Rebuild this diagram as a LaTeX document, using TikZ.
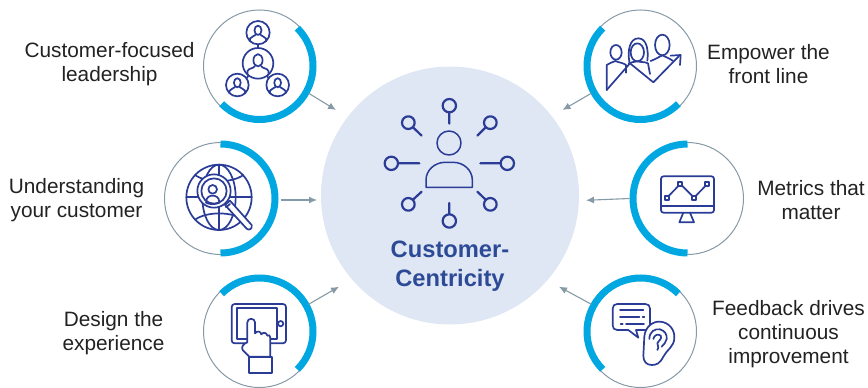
\documentclass[tikz,border=0pt]{standalone}
\usepackage{fontspec}
\setmainfont{Liberation Sans}
\definecolor{navy}{HTML}{2A3C96}
\definecolor{skyb}{HTML}{00A7E1}
\definecolor{ringg}{HTML}{8699A6}
\definecolor{hubfill}{HTML}{DFE7F4}
\definecolor{hubtext}{HTML}{2D4A96}
\definecolor{labelc}{HTML}{222222}
\tikzset{
  x=1pt,y=1pt,
  ring/.style={circle,draw=ringg,line width=1pt,minimum size=112pt,inner sep=0pt,outer sep=0pt},
  bluearc/.style={draw=skyb,line width=7pt},
  arr/.style={draw=ringg,line width=1.1pt,-{Latex[length=8pt,width=7pt]}},
  icon/.style={draw=navy,line width=1.7pt,line join=round,line cap=round},
  lab/.style={align=center,text=labelc,font=\fontsize{20.8}{24}\selectfont,inner sep=0pt},
  zoomed/.style={x=0.33333pt,y=-0.33333pt},
}
\usetikzlibrary{arrows.meta}
\newcommand{\personring}[3]{%
  \draw[icon] (#1,#2) circle[radius=#3];
  \draw[icon] (#1,#2-0.2*#3) ellipse[x radius=0.3*#3,y radius=0.4*#3];
  \draw[icon] (#1-0.68*#3,#2+0.72*#3) -- (#1-0.68*#3,#2+0.5*#3) .. controls (#1-0.6*#3,#2+0.3*#3) and (#1-0.3*#3,#2+0.35*#3) .. (#1-0.2*#3,#2+0.18*#3);
  \draw[icon] (#1+0.68*#3,#2+0.72*#3) -- (#1+0.68*#3,#2+0.5*#3) .. controls (#1+0.6*#3,#2+0.3*#3) and (#1+0.3*#3,#2+0.35*#3) .. (#1+0.2*#3,#2+0.18*#3);
}
\begin{document}
\begin{tikzpicture}
\useasboundingbox (0,0) rectangle (868,-388);
% hub
\node[circle,fill=hubfill,minimum size=258pt,inner sep=0pt,outer sep=0pt] (hub) at (450,-195.5) {};
\node[align=center,text=hubtext,font=\fontsize{23.7}{29}\selectfont\bfseries,inner sep=0pt] (hubtxt) at (450,-266.5) {Customer-\\Centricity};
% rings
\node[ring] (c1) at (259.5,-66) {};
\node[ring] (c2) at (220.5,-198.5) {};
\node[ring] (c3) at (259.5,-331.5) {};
\node[ring] (c4) at (640.5,-66) {};
\node[ring] (c5) at (687.5,-198.5) {};
\node[ring] (c6) at (640.5,-331.5) {};
% thick arcs
\draw[bluearc] (c1)++(45:53.5) arc[start angle=45,end angle=-135,radius=53.5];
\draw[bluearc] (c2)++(90:54.5) arc[start angle=90,end angle=-90,radius=54.5];
\draw[bluearc] (c3)++(135:53.5) arc[start angle=135,end angle=-45,radius=53.5];
\draw[bluearc] (c4)++(135:53.5) arc[start angle=135,end angle=315,radius=53.5];
\draw[bluearc] (c5)++(90:54.5) arc[start angle=90,end angle=270,radius=54.5];
\draw[bluearc] (c6)++(45:53.5) arc[start angle=45,end angle=225,radius=53.5];
% connector ends
\coordinate (e1) at (336,-110);
\coordinate (e2) at (317,-200);
\coordinate (e3) at (339,-286.7);
\coordinate (e4) at (562.5,-110);
\coordinate (e5) at (586,-200.3);
\coordinate (e6) at (559,-286.7);
\draw[arr] (c1.-29) -- (e1);
\draw[arr] (c2.0) ++(4,-1.5) -- (e2);
\draw[arr] (c3.29) -- (e3);
\draw[arr] (c4.209) -- (e4);
\draw[arr] (c5.180) ++(-2,0) -- (e5);
\draw[arr] (c6.151) -- (e6);
% labels
\node[lab] (l1) at (109.5,-64.5) {Customer-focused\\leadership};
\node[lab] (l2) at (76.5,-200.5) {Understanding\\your customer};
\node[lab] (l3) at (113.5,-333.5) {Design the\\experience};
\node[lab] (l4) at (768.5,-64.5) {Empower the\\front line};
\node[lab] (l5) at (811,-200.5) {Metrics that\\matter};
\node[lab] (l6) at (788.5,-334.5) {Feedback drives\\continuous\\improvement};
% hub icon
\begin{scope}[shift={(370pt,-85pt)},zoomed,icon,line width=1.5pt]
  \draw (237,174) circle[radius=36];
  \draw (168,307) -- (168,285) .. controls (168,255) and (195,232) .. (225,232) -- (250,232) .. controls (280,232) and (307,255) .. (307,285) -- (307,307) -- cycle;
  \begin{scope}[line width=2.2pt]
  \draw (238,62) circle[radius=20] (238,82) -- (238,116);
  \draw (238,408) circle[radius=20] (238,388) -- (238,354);
  \draw (64,235) circle[radius=20] (84,235) -- (148,235);
  \draw (412,235) circle[radius=20] (392,235) -- (331,235);
  \draw (115,113) circle[radius=19] (130,128) -- (155,152);
  \draw (361,113) circle[radius=19] (346,128) -- (322,152);
  \draw (115,358) circle[radius=19] (130,343) -- (155,320);
  \draw (361,358) circle[radius=19] (346,343) -- (322,320);
  \end{scope}
\end{scope}
% icon 1
\begin{scope}[shift={(190pt,0pt)},zoomed,icon]
  \personring{204}{98}{35}
  \personring{204}{190}{46}
  \personring{142}{255}{34}
  \personring{263}{255}{34}
  \draw (204,133) -- (204,144);
  \draw (170,235) -- (175,227);
  \draw (235,235) -- (232,228);
\end{scope}
% icon 2
\begin{scope}[shift={(150pt,-130pt)},zoomed,icon]
  \draw (207,202) circle[radius=98];
  \draw (207,202) ellipse[x radius=50,y radius=98];
  \draw (207,104) -- (207,300);
  \draw (109,202) -- (305,202);
  \draw (135,135) .. controls (170,160) and (245,160) .. (280,135);
  \draw (135,269) .. controls (170,244) and (245,244) .. (280,269);
  \draw[fill=white] (225,225) -- (240,212) -- (305,285) .. controls (308,298) and (296,302) .. (290,296) -- cycle;
  \draw (228,232) -- (240,222);
  \draw[fill=white] (192,183) circle[radius=50];
  \draw (192,183) circle[radius=38];
  \draw (188,178) circle[radius=13];
  \draw (168,218) .. controls (168,200) and (180,197) .. (188,197) .. controls (196,197) and (208,200) .. (208,218) .. controls (195,224) and (180,224) .. (168,218) -- cycle;
\end{scope}
% icon 3
\begin{scope}[shift={(190pt,-265pt)},zoomed,icon]
  \draw[rounded corners=3pt] (125,117) rectangle (288,235);
  \draw (140,130) rectangle (260,222);
  \draw (272,176) circle[radius=8];
  \draw[fill=white] (172,232) -- (172,172) .. controls (172,158) and (195,158) .. (195,172) -- (195,205) .. controls (203,195) and (212,200) .. (214,208) .. controls (220,200) and (230,203) .. (232,212) .. controls (236,207) and (241,212) .. (241,218) -- (241,275) -- (178,275) -- (158,255) .. controls (152,245) and (162,235) .. (172,232) -- cycle;
  \draw[fill=white] (177,277) rectangle (247,323);
\end{scope}
% icon 4
\begin{scope}[shift={(550pt,0pt)},zoomed,icon]
  \draw (170,270) -- (170,195) .. controls (178,188) and (188,188) .. (196,183) .. controls (206,188) and (220,188) .. (228,195) -- (228,218);
  \draw (198,157) ellipse[x radius=17,y radius=22];
  \draw (238,185) .. controls (232,150) and (240,115) .. (265,115) .. controls (290,115) and (296,150) .. (292,182);
  \draw (262,157) ellipse[x radius=20,y radius=27];
  \draw (236,190) .. controls (245,185) and (252,187) .. (262,184) .. controls (272,187) and (285,185) .. (294,190) -- (300,222);
  \draw (337,135) ellipse[x radius=22,y radius=31];
  \draw (302,183) .. controls (315,178) and (325,172) .. (337,166) .. controls (345,170) and (358,175) .. (368,182);
  \draw (170,270) -- (240,190) -- (310,247) -- (390,165);
  \draw (362,167) -- (392,165) -- (390,195);
\end{scope}
% icon 5
\begin{scope}[shift={(580pt,-135pt)},zoomed,icon]
  \draw[rounded corners=2.5pt] (243,124) rectangle (402,233);
  \draw (243,212) -- (402,212);
  \draw (310,233) -- (298,262) -- (342,262) -- (330,233);
  \draw (261,188) -- (301,147) -- (342,188) -- (382,147);
  \foreach \px/\py in {261/188,301/147,342/188,382/147}
    \draw[fill=white] (\px-6,\py-6) rectangle (\px+6,\py+6);
\end{scope}
% icon 6
\begin{scope}[shift={(550pt,-265pt)},zoomed,icon]
  \draw (202,117) -- (286,117) .. controls (295,117) and (300,122) .. (300,131) -- (300,181) .. controls (300,190) and (295,195) .. (286,195) -- (258,195) -- (265,218) -- (235,195) -- (202,195) .. controls (193,195) and (188,190) .. (188,181) -- (188,131) .. controls (188,122) and (193,117) .. (202,117) -- cycle;
  \draw (210,135) -- (280,135);
  \draw (210,157) -- (268,157) (278,157) -- (283,157);
  \draw (212,178) -- (218,178) (228,178) -- (282,178);
  \draw[fill=white] (283,215) .. controls (285,185) and (310,168) .. (330,170) .. controls (358,172) and (375,195) .. (373,220) .. controls (372,245) and (350,255) .. (340,275) .. controls (330,295) and (320,300) .. (305,300) .. controls (290,300) and (280,290) .. (280,272) -- cycle;
  \draw (298,222) .. controls (298,200) and (315,190) .. (330,193) .. controls (345,197) and (352,210) .. (350,222) .. controls (348,232) and (342,238) .. (335,245);
  \draw (310,222) .. controls (312,210) and (325,205) .. (332,212) .. controls (338,220) and (325,228) .. (322,235) .. controls (322,242) and (328,245) .. (322,255);
\end{scope}
\end{tikzpicture}
\end{document}
